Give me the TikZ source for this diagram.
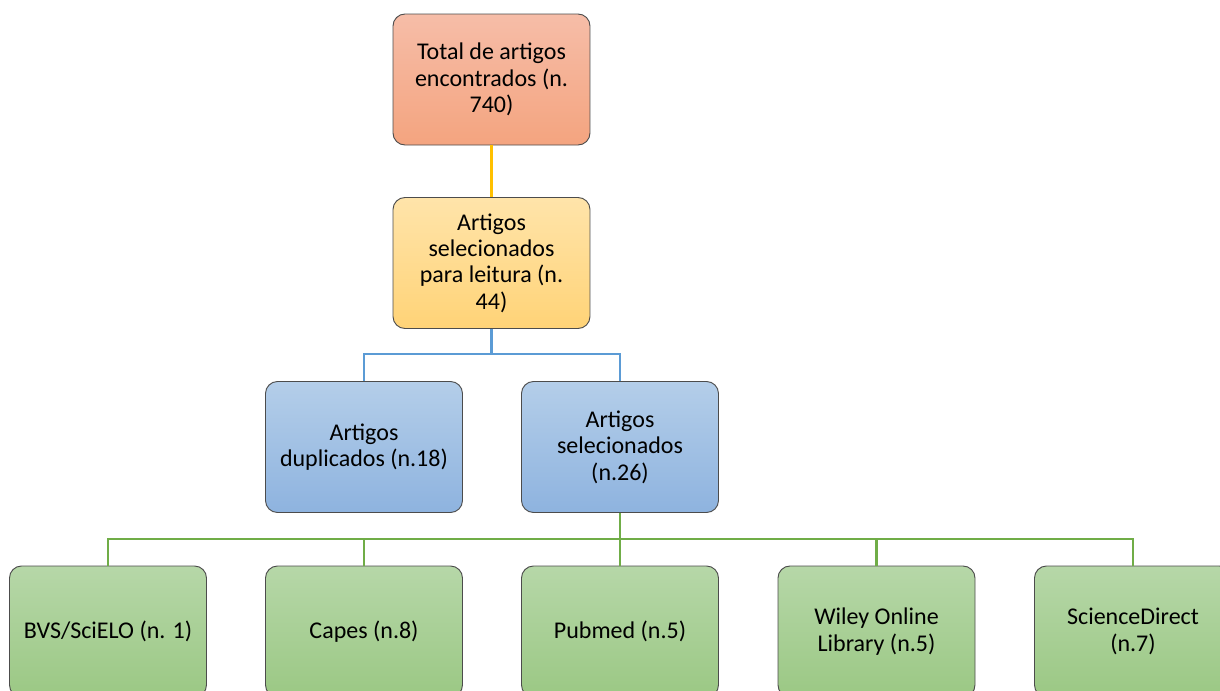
\documentclass[tikz,border=0pt]{standalone}
\usepackage{fontspec}
\setmainfont{Carlito}
\definecolor{salmaoA}{HTML}{F6BDA8}
\definecolor{salmaoB}{HTML}{F4A47F}
\definecolor{amareloA}{HTML}{FFE4AA}
\definecolor{amareloB}{HTML}{FFD377}
\definecolor{azulA}{HTML}{B4CEE9}
\definecolor{azulB}{HTML}{8EB3DF}
\definecolor{verdeA}{HTML}{B6D7A8}
\definecolor{verdeB}{HTML}{9BC884}
\definecolor{linhaOuro}{HTML}{FFC000}
\definecolor{linhaAzul}{HTML}{5B9BD5}
\definecolor{linhaVerde}{HTML}{70AD47}
\begin{document}
\begin{tikzpicture}[x=0.75pt,y=-0.75pt,
  caixa/.style={draw=black!70, line width=0.7pt, rounded corners=9pt,
    minimum width=147.75pt, minimum height=98.25pt, align=center,
    font=\fontsize{18}{19.8}\selectfont},
  total/.style={caixa, top color=salmaoA, bottom color=salmaoB},
  leitura/.style={caixa, top color=amareloA, bottom color=amareloB},
  grupo/.style={caixa, top color=azulA, bottom color=azulB},
  base/.style={caixa, top color=verdeA, bottom color=verdeB},
  liga/.style={line width=1.9pt}]
\useasboundingbox (0,0) rectangle (1220,690);
\clip (0,0) rectangle (1220,690);
\node[total] (tot) at (491.5,79.5){Total de artigos\\encontrados (n.\\740)};
\node[leitura] (leit) at (491.5,263){Artigos\\selecionados\\para leitura (n.\\44)};
\node[grupo] (dup) at (364,447){Artigos\\duplicados (n.18)};
\node[grupo] (sel) at (620,447){Artigos\\selecionados\\(n.26)};
\node[base] (bvs) at (108,631.5){BVS/SciELO (n. 1)};
\node[base] (cap) at (364,631.5){Capes (n.8)};
\node[base] (pub) at (620,631.5){Pubmed (n.5)};
\node[base] (wil) at (876.5,631.5){Wiley Online\\Library (n.5)};
\node[base] (sci) at (1133,631.5){ScienceDirect\\(n.7)};
\coordinate (bus1) at (491.5,354);
\coordinate (bus2) at (620,539);
\draw[liga, linhaOuro](tot) -- (leit);
\draw[liga, linhaAzul](leit) -- (bus1) -| (dup);
\draw[liga, linhaAzul](bus1) -| (sel);
\draw[liga, linhaVerde](sel) -- (bus2);
\draw[liga, linhaVerde](bus2) -| (bvs);
\draw[liga, linhaVerde](bus2) -| (cap);
\draw[liga, linhaVerde](bus2) -- (pub);
\draw[liga, linhaVerde](bus2) -| (wil);
\draw[liga, linhaVerde](bus2) -| (sci);
\end{tikzpicture}
\end{document}
